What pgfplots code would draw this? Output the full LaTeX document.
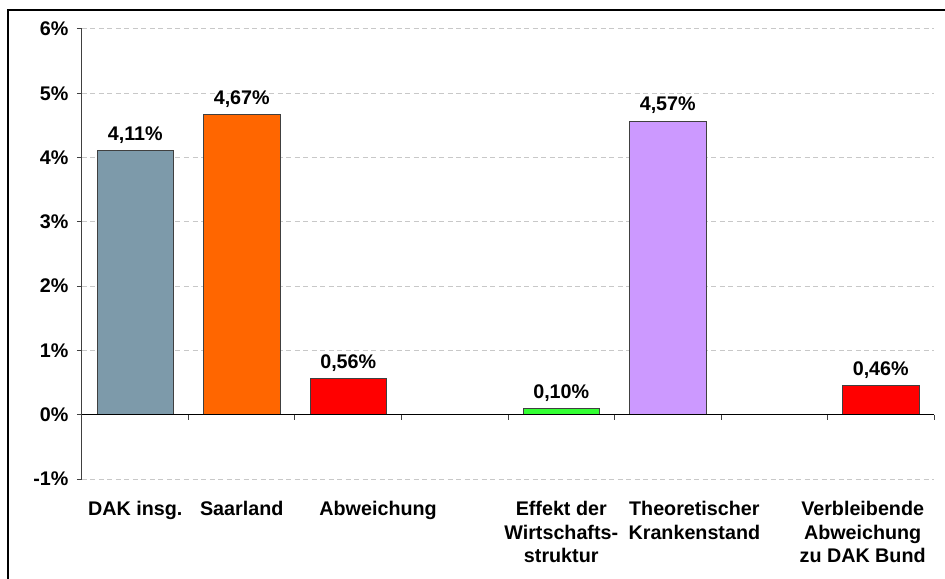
\documentclass[border=0pt]{standalone}
\usepackage{fontspec}
\setmainfont{Liberation Sans}
\usepackage{pgfplots}
\pgfplotsset{compat=1.18}

\definecolor{dakgrau}{HTML}{7D9AAA}
\definecolor{saarorange}{HTML}{FF6600}
\definecolor{abwrot}{HTML}{FF0000}
\definecolor{effgruen}{HTML}{33FF33}
\definecolor{theolila}{HTML}{CC99FF}
\definecolor{gridgrau}{HTML}{C8C8C8}
\definecolor{achse}{HTML}{404040}

\newcommand{\lblfont}{\bfseries\fontsize{19.8}{23.5}\selectfont}

\begin{document}
\begin{tikzpicture}
\begin{axis}[
  at={(0,0)}, anchor=south west,
  scale only axis,
  width=852bp, height=450bp,
  xmin=-0.5, xmax=7.5,
  ymin=-1, ymax=6,
  ybar, bar width=0.72,
  clip=false,
  separate axis lines,
  axis y line*=left,
  axis x line*=bottom,
  x axis line style={draw=none},
  y axis line style={draw=achse, line width=1bp},
  xtick={0,1,2.28,4,5.25,6.83},
  xticklabels={{DAK insg.},{Saarland},{Abweichung},{Effekt der\\Wirtschafts-\\struktur},{Theoretischer\\Krankenstand},{Verbleibende\\Abweichung\\zu DAK Bund}},
  xtick style={draw=none},
  xticklabel style={align=center, anchor=north, yshift=-14bp},
  ytick={-1,0,...,6},
  yticklabel={\pgfmathprintnumber{\tick}\%},
  yticklabel style={xshift=-5bp},
  /pgf/number format/assume math mode=true,
  ytick align=outside,
  major tick length=5bp,
  ytick style={draw=achse, line width=1bp},
  tick label style={font=\lblfont},
  ymajorgrids=true,
  major grid style={draw=gridgrau, line width=1bp, dash pattern=on 5bp off 3.5bp},
  nodes near coords={\pgfmathprintnumber[fixed,fixed zerofill,precision=2,use comma]{\pgfplotspointmeta}\%},
  nodes near coords style={font=\lblfont, anchor=base, inner sep=0pt, yshift=10bp},
]
% DAK-Krankenstand Saarland: Vergleich und Wirtschaftsstruktur-Effekt
\addplot[bar shift=0pt, fill=dakgrau, draw=achse, line width=0.8bp] coordinates {(0,4.11)};
\addplot[bar shift=0pt, fill=saarorange, draw=achse, line width=0.8bp] coordinates {(1,4.67)};
\addplot[bar shift=0pt, fill=abwrot, draw=achse, line width=0.8bp] coordinates {(2,0.56)};
\addplot[bar shift=0pt, fill=effgruen, draw=achse, line width=0.8bp] coordinates {(4,0.10)};
\addplot[bar shift=0pt, fill=theolila, draw=achse, line width=0.8bp] coordinates {(5,4.57)};
\addplot[bar shift=0pt, fill=abwrot, draw=achse, line width=0.8bp] coordinates {(7,0.46)};

% Nulllinie mit Trennstrichen
\draw[black, line width=1.2bp] (axis cs:-0.5,0) -- (axis cs:7.5,0);
\pgfplotsinvokeforeach{0.5,1.5,2.5,3.5,4.5,5.5,6.5,7.5}{
  \draw[achse, line width=1bp] (axis cs:#1,0) -- (axis cs:#1,-0.078);
}
\end{axis}
\pgfresetboundingbox
\path[use as bounding box] (-82bp,-100bp) rectangle (863bp,479bp);
\draw[black, line width=2bp] (-74bp,-140bp) -- (-74bp,469bp) -- (900bp,469bp);
\end{tikzpicture}
\end{document}
